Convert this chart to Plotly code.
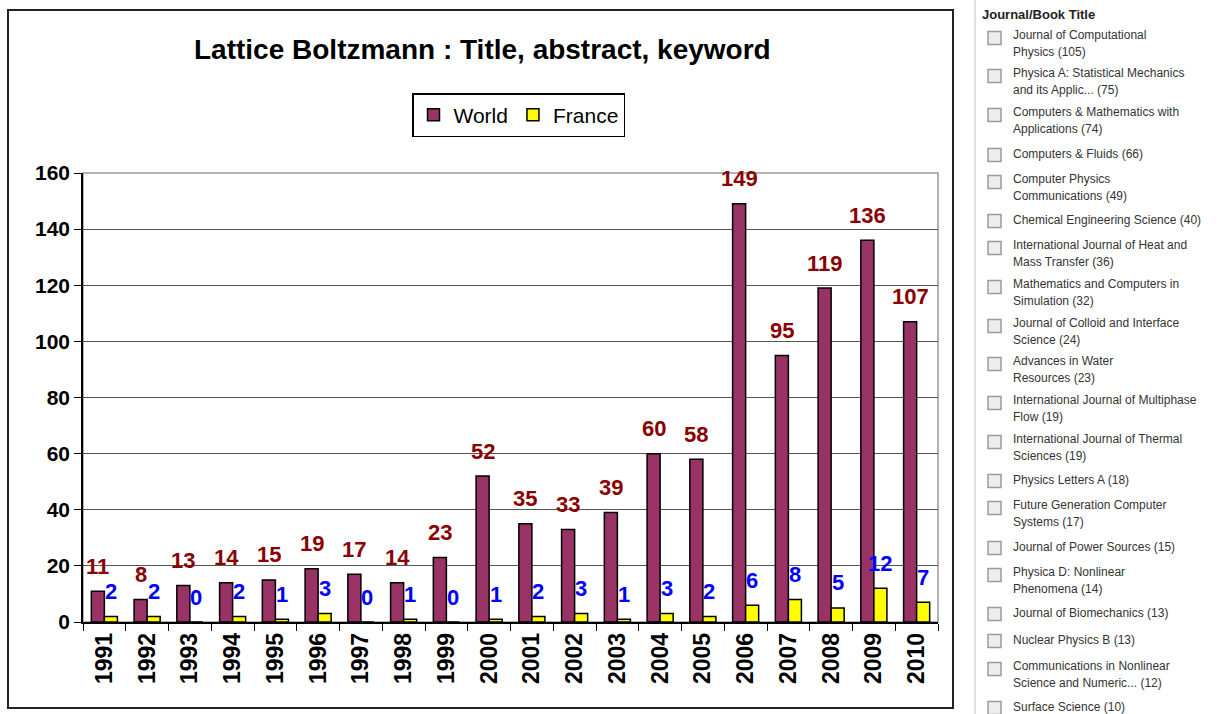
import plotly.graph_objects as go

years = [str(y) for y in range(1991, 2011)]
world = [11, 8, 13, 14, 15, 19, 17, 14, 23, 52, 35, 33, 39, 60, 58, 149, 95, 119, 136, 107]
france = [2, 2, 0, 2, 1, 3, 0, 1, 0, 1, 2, 3, 1, 3, 2, 6, 8, 5, 12, 7]

journals = [
    ["Journal of Computational", "Physics (105)"],
    ["Physica A: Statistical Mechanics", "and its Applic... (75)"],
    ["Computers & Mathematics with", "Applications (74)"],
    ["Computers & Fluids (66)"],
    ["Computer Physics", "Communications (49)"],
    ["Chemical Engineering Science (40)"],
    ["International Journal of Heat and", "Mass Transfer (36)"],
    ["Mathematics and Computers in", "Simulation (32)"],
    ["Journal of Colloid and Interface", "Science (24)"],
    ["Advances in Water", "Resources (23)"],
    ["International Journal of Multiphase", "Flow (19)"],
    ["International Journal of Thermal", "Sciences (19)"],
    ["Physics Letters A (18)"],
    ["Future Generation Computer", "Systems (17)"],
    ["Journal of Power Sources (15)"],
    ["Physica D: Nonlinear", "Phenomena (14)"],
    ["Journal of Biomechanics (13)"],
    ["Nuclear Physics B (13)"],
    ["Communications in Nonlinear", "Science and Numeric... (12)"],
    ["Surface Science (10)"],
]
journal_line_y = [35, 73, 112, 154, 179, 220, 245, 284, 323, 361, 400, 439, 480, 505, 547, 572, 613, 640, 666, 707]

W, H = 1222, 714
L, R, T, B = 83, 938, 173, 622
FONT = "Arial, Liberation Sans, sans-serif"


def px(x):
    return (x - L) / (R - L)


def py(y):
    return (B - y) / (B - T)


fig = go.Figure()
fig.add_trace(go.Bar(x=years, y=world, name="World",
                     marker=dict(color="#993366", line=dict(color="black", width=1.5))))
fig.add_trace(go.Bar(x=years, y=france, name="France",
                     marker=dict(color="#FFFF00", line=dict(color="black", width=1.5))))

annotations = []
# category positions (index along the category axis)
for i, v in enumerate(world):
    annotations.append(dict(x=i, y=v, xref="x", yref="y", text=str(v), showarrow=False,
                            xshift=-6.5, yshift=25,
                            font=dict(family=FONT, size=22, color="#8B0000", weight="bold")))
for i, v in enumerate(france):
    annotations.append(dict(x=i, y=v, xref="x", yref="y", text=str(v), showarrow=False,
                            xshift=6.5, yshift=25,
                            font=dict(family=FONT, size=22, color="#0000FF", weight="bold")))

# title
annotations.append(dict(x=px(482), y=py(49), xref="paper", yref="paper",
                        text="Lattice Boltzmann : Title, abstract, keyword", showarrow=False,
                        xanchor="center", yanchor="middle",
                        font=dict(family=FONT, size=28, color="black", weight="bold")))

shapes = []
# outer chart border
shapes.append(dict(type="rect", xref="paper", yref="paper", x0=px(8), x1=px(953), y0=py(708), y1=py(10),
                   line=dict(color="#222222", width=2), layer="below"))
# plot area border (gray)
shapes.append(dict(type="rect", xref="paper", yref="paper", x0=0, x1=1, y0=0, y1=1,
                   line=dict(color="#999999", width=1.5), layer="below"))
# side panel separator
shapes.append(dict(type="line", xref="paper", yref="paper", x0=px(975), x1=px(975), y0=py(0), y1=py(714),
                   line=dict(color="#e0e0e0", width=2)))

annotations.append(dict(x=px(980), y=py(14), xref="paper", yref="paper", text="Journal/Book Title",
                        showarrow=False, xanchor="left", yanchor="middle",
                        font=dict(family=FONT, size=13, color="#222222", weight="bold")))

for lines, y0 in zip(journals, journal_line_y):
    for i, line in enumerate(lines):
        annotations.append(dict(x=px(1011), y=py(y0 + 17 * i), xref="paper", yref="paper", text=line,
                                showarrow=False, xanchor="left", yanchor="middle",
                                font=dict(family=FONT, size=12, color="#333333")))
    cy = y0 + (3 if len(lines) > 1 else 1)
    shapes.append(dict(type="rect", xref="paper", yref="paper",
                       x0=px(988), x1=px(1001), y0=py(cy + 6.5), y1=py(cy - 6.5),
                       line=dict(color="#9a9a9a", width=1.5), fillcolor="#eeeeee"))

fig.update_layout(
    width=W, height=H,
    margin=dict(l=L, r=W - R, t=T, b=H - B),
    paper_bgcolor="white", plot_bgcolor="white",
    barmode="group", bargap=0.39, bargroupgap=0,
    showlegend=True,
    legend=dict(orientation="h", x=px(412), y=py(93), xanchor="left", yanchor="top",
                bordercolor="black", borderwidth=1.5, bgcolor="white",
                font=dict(family=FONT, size=21, color="black"),
                itemwidth=30, tracegroupgap=0),
    xaxis=dict(type="category", categoryorder="array", categoryarray=years,
               range=[-0.5, len(years) - 0.5], autorange=False,
               tickangle=-90, showline=True, linecolor="black", linewidth=1.5,
               ticks="outside", tickson="boundaries", ticklen=7, tickcolor="black",
               tickfont=dict(family=FONT, size=23, color="black", weight="bold"),
               showgrid=False),
    yaxis=dict(range=[0, 160], autorange=False, dtick=20, showline=True, linecolor="black", linewidth=1.5,
               ticks="outside", ticklen=7, tickcolor="black",
               gridcolor="#555555", gridwidth=1,
               tickfont=dict(family=FONT, size=21, color="black", weight="bold"),
               zeroline=False),
    annotations=annotations,
    shapes=shapes,
)

fig.write_html("out.html")
